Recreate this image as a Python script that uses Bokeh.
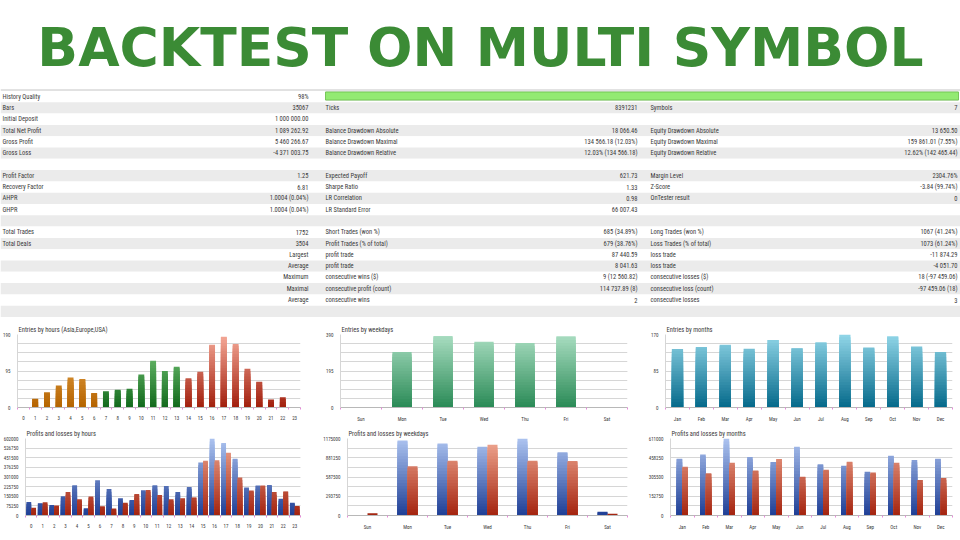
from bokeh.plotting import figure
from bokeh.models import ColumnDataSource, Range1d, FixedTicker
from bokeh.layouts import column, row
from bokeh.embed import file_html
from bokeh.resources import INLINE
from bokeh.core.properties import value

# ---------------- data ----------------
TITLE = "BACKTEST ON MULTI SYMBOL"

labels_a = ["History Quality", "Bars", "Initial Deposit", "Total Net Profit", "Gross Profit", "Gross Loss", "",
            "Profit Factor", "Recovery Factor", "AHPR", "GHPR", "", "Total Trades", "Total Deals",
            "", "", "", "", "", ""]
values_a = ["98%", "35067", "1 000 000.00", "1 089 262.92", "5 460 266.67", "-4 371 003.75", "",
            "1.25", "6.81", "1.0004 (0.04%)", "1.0004 (0.04%)", "", "1752", "3504",
            "Largest", "Average", "Maximum", "Maximal", "Average", ""]
labels_b = ["", "Ticks", "", "Balance Drawdown Absolute", "Balance Drawdown Maximal", "Balance Drawdown Relative", "",
            "Expected Payoff", "Sharpe Ratio", "LR Correlation", "LR Standard Error", "",
            "Short Trades (won %)", "Profit Trades (% of total)", "profit trade", "profit trade",
            "consecutive wins ($)", "consecutive profit (count)", "consecutive wins", ""]
values_b = ["", "8391231", "", "18 066.46", "134 566.18 (12.03%)", "12.03% (134 566.18)", "",
            "621.73", "1.33", "0.98", "66 007.43", "",
            "685 (34.89%)", "679 (38.76%)", "87 440.59", "8 041.63",
            "9 (12 560.82)", "114 737.89 (8)", "2", ""]
labels_c = ["", "Symbols", "", "Equity Drawdown Absolute", "Equity Drawdown Maximal", "Equity Drawdown Relative", "",
            "Margin Level", "Z-Score", "OnTester result", "", "",
            "Long Trades (won %)", "Loss Trades (% of total)", "loss trade", "loss trade",
            "consecutive losses ($)", "consecutive loss (count)", "consecutive losses", ""]
values_c = ["", "7", "", "13 650.50", "159 861.01 (7.55%)", "12.62% (142 465.44)", "",
            "2304.76%", "-3.84 (99.74%)", "0", "", "",
            "1067 (41.24%)", "1073 (61.24%)", "-11 874.29", "-4 051.70",
            "18 (-97 459.06)", "-97 459.06 (18)", "3", ""]
history_quality = [98]

hours = [str(h) for h in range(24)]
hour_sessions = ["Asia"] * 7 + ["Europe"] * 7 + ["USA"] * 10
entries_hours = [0, 23, 40, 57, 78, 74, 38, 42, 46, 49, 86, 122, 95, 106, 76, 93, 163, 184, 165, 101, 67, 21, 27, 0]
profit_hours = [106000, 96000, 83000, 150000, 236000, 57000, 275000, 208000, 135000, 122000, 197000, 236000,
                231000, 184000, 223000, 415000, 602000, 566000, 444000, 218000, 234000, 239000, 130000, 99000]
loss_hours = [60000, 104000, 78000, 184000, 127000, 148000, 70000, 54000, 99000, 169000, 200000, 161000,
              127000, 135000, 140000, 428000, 431000, 490000, 298000, 195000, 234000, 184000, 187000, 75000]

weekdays = ["Sun", "Mon", "Tue", "Wed", "Thu", "Fri", "Sat"]
entries_weekdays = [2, 296, 382, 351, 345, 380, 0]
profit_weekdays = [0, 1145000, 1099000, 1048000, 1175000, 967000, 56000]
loss_weekdays = [35000, 750000, 836000, 1079000, 836000, 831000, 25000]

months = ["Jan", "Feb", "Mar", "Apr", "May", "Jun", "Jul", "Aug", "Sep", "Oct", "Nov", "Dec"]
entries_months = [136, 141, 146, 137, 157, 138, 152, 170, 140, 166, 142, 129]
profit_months = [450000, 485000, 611000, 464000, 424000, 545000, 406000, 395000, 348000, 474000, 440000, 450000]
loss_months = [387000, 335000, 419000, 358000, 448000, 308000, 363000, 427000, 342000, 419000, 282000, 298000]

ticks_entries_hours = [0, 95, 190]
ticks_entries_weekdays = [0, 195, 390]
ticks_entries_months = [0, 85, 170]
ticks_pl_hours = [0, 75250, 150500, 225750, 301000, 376250, 451500, 526750, 602000]
ticks_pl_weekdays = [0, 293750, 587500, 881250, 1175000]
ticks_pl_months = [0, 152750, 305500, 458250, 611000]

# ---------------- styles ----------------
FONT = "Roboto Condensed, Roboto"
TXT = "#3a3a3a"
GRID = "#d6d6d6"
ramps = {
    "Asia": ("#b46300", "#f4b65e"),
    "Europe": ("#12691c", "#86d486"),
    "USA": ("#a11e0c", "#f6ab9a"),
    "week": ("#2a8a56", "#aadec2"),
    "month": ("#04698a", "#92d6e8"),
    "blue": ("#1e3e95", "#adc4f0"),
    "red": ("#a3230e", "#f2ab95"),
}


def mix(c1, c2, t):
    a = [int(c1[i:i + 2], 16) for i in (1, 3, 5)]
    b = [int(c2[i:i + 2], 16) for i in (1, 3, 5)]
    return "#%02x%02x%02x" % tuple(round(a[j] + (b[j] - a[j]) * t) for j in range(3))


def band_source(xs, vals, ymax, ramp_keys, n=26):
    d = {"x": [], "top": [], "color": []}
    for k in range(n - 1, -1, -1):
        lo = ymax * k / n
        hi = ymax * (k + 1) / n
        for x, v, rk in zip(xs, vals, ramp_keys):
            if v > lo:
                c0, c1 = ramps[rk]
                d["x"].append(x)
                d["top"].append(min(v, hi))
                d["color"].append(mix(c0, c1, (k + 0.5) / n))
    return ColumnDataSource(d)


# ---------------- header: title + statistics table ----------------
HDR_H = 318
hdr = figure(width=960, height=HDR_H, x_range=Range1d(0, 960), y_range=Range1d(HDR_H, 0),
             output_backend="svg", toolbar_location=None, min_border=0)
hdr.axis.visible = False
hdr.grid.visible = False
hdr.outline_line_color = None
hdr.background_fill_color = "white"

hdr.text(x=[480], y=[47], text=[TITLE], text_align="center", text_baseline="middle",
         text_font=value("DejaVu Sans"), text_font_style="bold", text_font_size="53.5px",
         text_color="#3b8b35")

n_rows = len(labels_a)
row_h = 11.3
row_top0 = 90.5
idx = list(range(n_rows))
tops = [row_top0 + i * row_h for i in idx]
centers = [t + row_h / 2 for t in tops]
shade = ["#ebebeb" if i % 2 else "#ffffff" for i in idx]
hdr.quad(left=0, right=960, top=tops, bottom=[t + row_h for t in tops], fill_color=shade, line_color=None)
hdr.segment(x0=[0], x1=[960], y0=[89.5], y1=[89.5], line_color="#c4c4c4", line_width=1)

# history quality bar
hq_left, hq_right = 325, 958
hdr.quad(left=[hq_left], right=[hq_right], top=[91.5], bottom=[99.5], fill_color="#f4f4f4",
         line_color="#a8c8a0", line_width=0.8)
hdr.quad(left=[hq_left], right=[hq_left + (hq_right - hq_left) * q / 98 for q in history_quality],
         top=[91.5], bottom=[99.5], fill_color="#93ea72", line_color="#6cc04e", line_width=0.8)

tstyle = dict(text_font=value(FONT), text_font_size="6.5px", text_color=TXT, text_baseline="middle")
hdr.text(x=[2] * n_rows, y=centers, text=labels_a, text_align="left", **tstyle)
hdr.text(x=[308] * n_rows, y=centers, text=values_a, text_align="right", **tstyle)
hdr.text(x=[325] * n_rows, y=centers, text=labels_b, text_align="left", **tstyle)
hdr.text(x=[637] * n_rows, y=centers, text=values_b, text_align="right", **tstyle)
hdr.text(x=[650] * n_rows, y=centers, text=labels_c, text_align="left", **tstyle)
hdr.text(x=[957] * n_rows, y=centers, text=values_c, text_align="right", **tstyle)


# ---------------- charts ----------------
def chart(title, w, h, bl, br, bt, bb, xlabels, ymax, yticks):
    n = len(xlabels)
    p = figure(width=w, height=h, x_range=Range1d(-0.5, n - 0.5), y_range=Range1d(0, ymax),
               output_backend="svg", toolbar_location=None, title=title,
               min_border_left=bl, min_border_right=br, min_border_top=bt, min_border_bottom=bb)
    p.outline_line_color = None
    p.title.text_font = FONT
    p.title.text_font_size = "6.5px"
    p.title.text_font_style = "normal"
    p.title.text_color = TXT
    p.title.standoff = 2
    p.title.offset = 1
    p.xgrid.grid_line_color = None
    p.ygrid.grid_line_color = GRID
    p.ygrid.minor_grid_line_color = GRID
    p.yaxis.ticker = FixedTicker(ticks=yticks, minor_ticks=[ymax * i / 8 for i in range(9)])
    p.yaxis.major_label_overrides = {t: str(t) for t in yticks}
    p.xaxis.ticker = FixedTicker(ticks=list(range(n)), minor_ticks=[i - 0.5 for i in range(n + 1)])
    p.xaxis.major_label_overrides = {i: lab for i, lab in enumerate(xlabels)}
    for ax in (p.xaxis[0], p.yaxis[0]):
        ax.major_label_text_font = FONT
        ax.major_label_text_font_size = "5px"
        ax.major_label_text_color = TXT
        ax.major_tick_line_color = None
        ax.major_label_standoff = 2
    p.yaxis.minor_tick_line_color = None
    p.yaxis.axis_line_color = GRID
    p.xaxis.axis_line_color = "#b8b8b8"
    p.xaxis.minor_tick_line_color = "#e58ad8"
    p.xaxis.minor_tick_out = 2
    p.xaxis.minor_tick_in = 0
    p.yaxis.major_label_standoff = 1
    return p


# column geometry (width, left border, right border) and row geometry (height, top, bottom)
cols = [(320, 15, 20), (325, 20, 18), (315, 20, 8)]
r1 = (106, 16, 13)
r2 = (116, 14, 25)

# row 1: entries
c1 = chart("Entries by hours (Asia,Europe,USA)", cols[0][0], r1[0], cols[0][1], cols[0][2], r1[1], r1[2],
           hours, 190, ticks_entries_hours)
c1.vbar(x="x", top="top", bottom=0, width=0.5, fill_color="color", line_color=None,
        source=band_source(list(range(24)), entries_hours, 190, hour_sessions))

c2 = chart("Entries by weekdays", cols[1][0], r1[0], cols[1][1], cols[1][2], r1[1], r1[2],
           weekdays, 390, ticks_entries_weekdays)
c2.vbar(x="x", top="top", bottom=0, width=0.47, fill_color="color", line_color=None,
        source=band_source(list(range(7)), entries_weekdays, 390, ["week"] * 7))

c3 = chart("Entries by months", cols[2][0], r1[0], cols[2][1], cols[2][2], r1[1], r1[2],
           months, 170, ticks_entries_months)
c3.vbar(x="x", top="top", bottom=0, width=0.47, fill_color="color", line_color=None,
        source=band_source(list(range(12)), entries_months, 170, ["month"] * 12))


# row 2: profits and losses
def pl_chart(title, col, labels, pvals, lvals, ymax, yticks, bw):
    n = len(labels)
    p = chart(title, col[0], r2[0], col[1], col[2], r2[1], r2[2], labels, ymax, yticks)
    p.vbar(x="x", top="top", bottom=0, width=bw, fill_color="color", line_color=None,
           source=band_source([i - bw / 2 for i in range(n)], pvals, ymax, ["blue"] * n))
    p.vbar(x="x", top="top", bottom=0, width=bw, fill_color="color", line_color=None,
           source=band_source([i + bw / 2 for i in range(n)], lvals, ymax, ["red"] * n))
    return p


c4 = pl_chart("Profits and losses by hours", cols[0], hours, profit_hours, loss_hours, 602000, ticks_pl_hours, 0.42)
c5 = pl_chart("Profits and losses by weekdays", cols[1], weekdays, profit_weekdays, loss_weekdays, 1175000,
              ticks_pl_weekdays, 0.25)
c6 = pl_chart("Profits and losses by months", cols[2], months, profit_months, loss_months, 611000,
              ticks_pl_months, 0.24)

layout = column(hdr, row(c1, c2, c3), row(c4, c5, c6))
open("out.html", "w").write(file_html(layout, INLINE))
